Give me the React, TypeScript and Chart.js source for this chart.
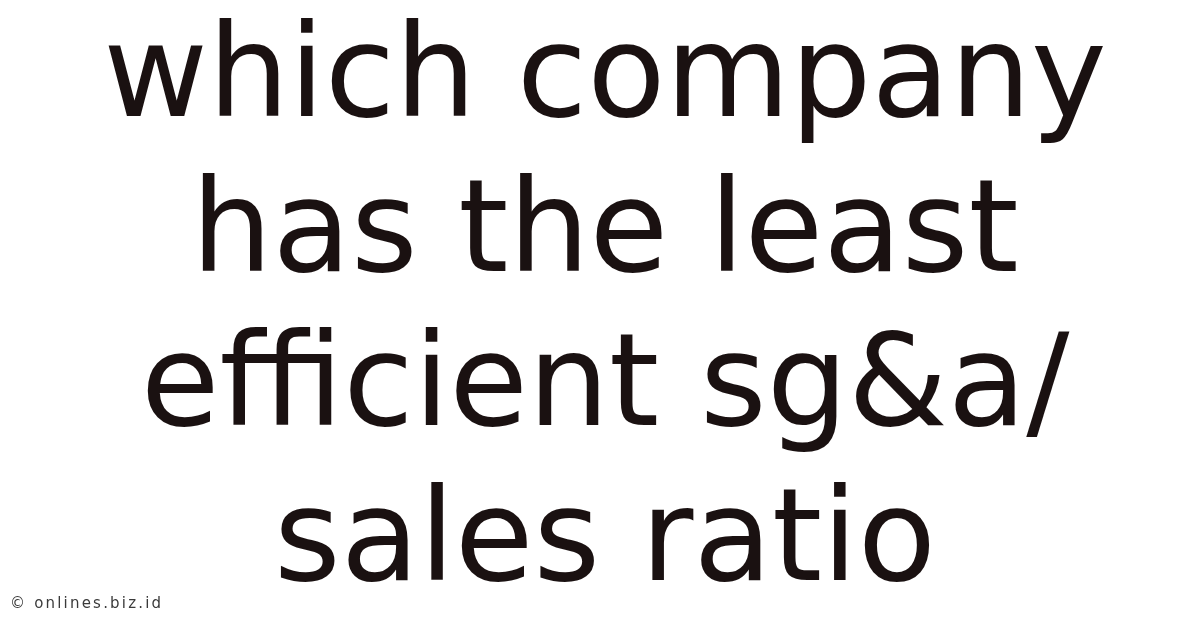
import { useEffect, useRef } from "react";
import { Chart, registerables, type ChartConfiguration, type Plugin } from "chart.js";

Chart.register(...registerables);

// the picture is a text card: no categories, no series
const categories: string[] = [];
const values: number[] = [];
const titleLines = ["which company", "has the least", "efficient sg&a/", "sales ratio"];
const watermark = "© onlines.biz.id";

const INK = "#1a1111";
const FONT = '"DejaVu Sans", Verdana, sans-serif';

const watermarkPlugin: Plugin = {
  id: "watermark",
  afterDraw(chart) {
    const ctx = chart.ctx;
    ctx.save();
    ctx.font = `15px ${FONT}`;
    ctx.fillStyle = "#3a3a3a";
    ctx.textAlign = "left";
    ctx.textBaseline = "alphabetic";
    (ctx as any).letterSpacing = "2.2px";
    ctx.fillText(watermark, 10, 608);
    ctx.restore();
  }
};

export default function App() {
  const ref = useRef<HTMLCanvasElement | null>(null);

  useEffect(() => {
    if (!ref.current) return;
    const config: ChartConfiguration = {
      type: "bar",
      data: {
        labels: categories,
        datasets: [{ label: "", data: values, backgroundColor: INK }]
      },
      options: {
        animation: false,
        responsive: true,
        maintainAspectRatio: false,
        layout: { padding: { left: 10, top: 0 } },
        plugins: {
          legend: { display: false },
          tooltip: { enabled: false },
          title: {
            display: true,
            text: titleLines,
            color: INK,
            font: { family: FONT, size: 128, weight: "normal", lineHeight: 1.21 },
            padding: { top: 5, bottom: 0 }
          }
        },
        scales: {
          x: { display: false },
          y: { display: false }
        }
      },
      plugins: [watermarkPlugin]
    };
    const chart = new Chart(ref.current, config);
    return () => chart.destroy();
  }, []);

  return (
    <div style={{ position: "fixed", left: 0, top: 0, width: 1200, height: 628, background: "#fff" }}>
      <canvas ref={ref} />
    </div>
  );
}
